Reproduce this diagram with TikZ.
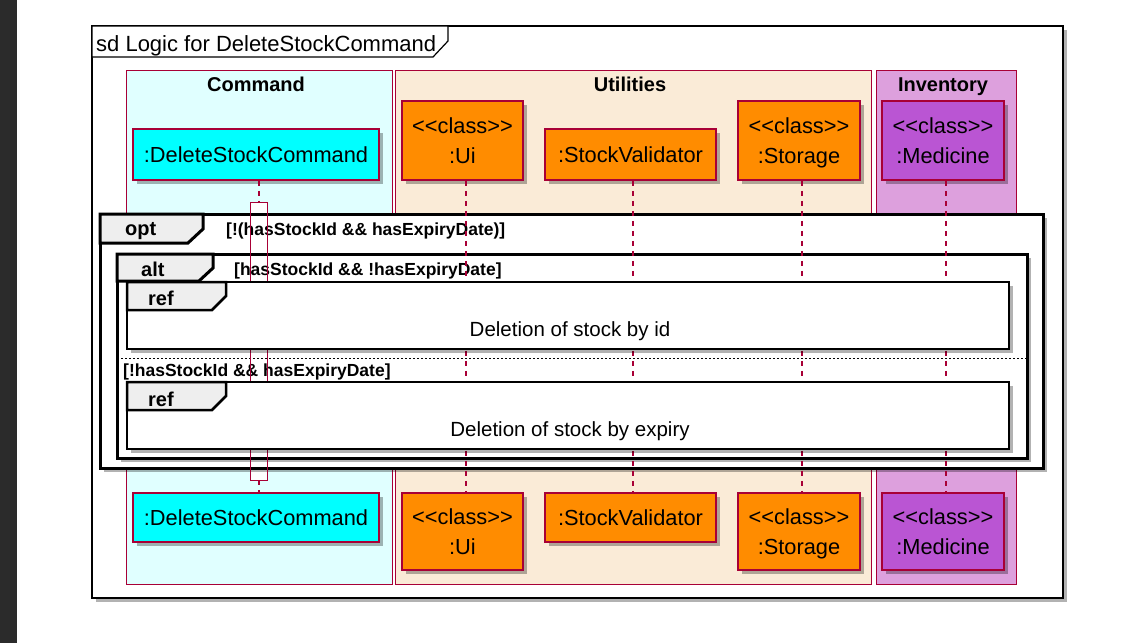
\documentclass[tikz,border=0pt]{standalone}
\usepackage{fontspec}
\setmainfont{Liberation Sans}[Ligatures=TeXOff]
\usetikzlibrary{shadows}
\definecolor{crim}{HTML}{A80036}
\definecolor{pcyan}{HTML}{00FFFF}
\definecolor{lcyan}{HTML}{E0FFFF}
\definecolor{awhite}{HTML}{FAEBD7}
\definecolor{lplum}{HTML}{DDA0DD}
\definecolor{dorange}{HTML}{FF8C00}
\definecolor{morchid}{HTML}{BA55D3}
\definecolor{tabgray}{HTML}{EEEEEE}
\definecolor{darkbar}{HTML}{2B2B2B}
\newcommand{\pst}{\rule[-7pt]{0pt}{30pt}}
\tikzset{
  shad/.style={drop shadow={shadow xshift=4pt, shadow yshift=-4pt, fill=black, opacity=0.3}},
  lane/.style={draw=crim, line width=1},
  lanetitle/.style={font=\fontsize{20}{24}\selectfont\bfseries, inner sep=0, anchor=base},
  part/.style={draw=crim, line width=1.5, shad, align=center, inner sep=0,
    font=\fontsize{21.8}{30}\selectfont},
  life/.style={draw=crim, line width=1.2, dash pattern=on 5pt off 5pt},
  bigframe/.style={draw=black, line width=3},
  refframe/.style={draw=black, line width=2.5},
  tablabel/.style={font=\fontsize{20}{24}\selectfont\bfseries, inner sep=0, anchor=base west},
  guard/.style={font=\fontsize{17.5}{20}\selectfont\bfseries, inner sep=0, anchor=base west},
  reftext/.style={font=\fontsize{20.5}{24}\selectfont, inner sep=0, anchor=base},
  actbox/.style={inner sep=0, minimum width=16, minimum height=277}
}
\begin{document}
\begin{tikzpicture}[x=1pt,y=-1pt]
% background
\useasboundingbox (0,0) rectangle (1126,643);
\fill[white] (0,0) rectangle (1126,643);
\fill[darkbar] (0,0) rectangle (17,643);
% outer frame
\draw[black, line width=1.5, fill=white, shad] (92,26) rectangle (1063,598);
\draw[black, line width=1.2, fill=white] (92,26) -- (448,26) -- (448,41) -- (433,57) -- (92,57) -- cycle;
\node[font=\fontsize{22}{26}\selectfont, inner sep=0, anchor=base west] (title) at (96,51.5) {sd Logic for DeleteStockCommand};
% lanes
\draw[lane, fill=lcyan] (126,70) rectangle (392,584);
\draw[lane, fill=awhite] (395,70) rectangle (871,584);
\draw[lane, fill=lplum] (876,70) rectangle (1016,584);
\node[lanetitle] (tcmd) at (256,91) {Command};
\node[lanetitle] (tutil) at (630,91) {Utilities};
\node[lanetitle] (tinv) at (943,91) {Inventory};
% participants top
\node[part, fill=pcyan, minimum width=246, minimum height=51] (dsc) at (256,154.5) {:DeleteStockCommand\pst};
\node[part, fill=dorange, minimum width=121, minimum height=79] (ui) at (462.5,140.5) {<<class>>\pst\\:Ui\pst};
\node[part, fill=dorange, minimum width=171, minimum height=51] (sv) at (630.5,154.5) {:StockValidator\pst};
\node[part, fill=dorange, minimum width=122, minimum height=79] (st) at (799,140.5) {<<class>>\pst\\:Storage\pst};
\node[part, fill=morchid, minimum width=122, minimum height=79] (med) at (943,140.5) {<<class>>\pst\\:Medicine\pst};
% participants bottom
\node[part, fill=pcyan, minimum width=246, minimum height=49] (dscB) at (256,517.5) {:DeleteStockCommand\pst};
\node[part, fill=dorange, minimum width=121, minimum height=77] (uiB) at (462.5,531.5) {<<class>>\pst\\:Ui\pst};
\node[part, fill=dorange, minimum width=171, minimum height=49] (svB) at (630.5,517.5) {:StockValidator\pst};
\node[part, fill=dorange, minimum width=122, minimum height=77] (stB) at (799,531.5) {<<class>>\pst\\:Storage\pst};
\node[part, fill=morchid, minimum width=122, minimum height=77] (medB) at (943,531.5) {<<class>>\pst\\:Medicine\pst};
% activation fill
\node[actbox, fill=white] (act) at (259,341.5) {};
% opt frame
\fill[white, shad] (100,214) rectangle (1043,468);
\draw[bigframe] (100,214) rectangle (1043,468);
\draw[bigframe, fill=tabgray] (100,214) -- (203,214) -- (203,229) -- (188,243) -- (100,243) -- cycle;
\node[tablabel] (optl) at (125,235.5) {opt};
\node[guard] (optg) at (226,235.5) {[!(hasStockId \&\& hasExpiryDate)]};
% alt frame
\fill[white, shad] (117,254) rectangle (1027,458);
\draw[bigframe] (117,254) rectangle (1027,458);
\draw[bigframe, fill=tabgray] (117,254) -- (213,254) -- (213,268) -- (199,281) -- (117,281) -- cycle;
\node[tablabel] (altl) at (141,276) {alt};
\node[guard] (altg1) at (234,275.5) {[hasStockId \&\& !hasExpiryDate]};
\draw[black, line width=0.8, dash pattern=on 2pt off 2pt] (117,358) -- (1027,358);
\node[guard] (altg2) at (123,376.5) {[!hasStockId \&\& hasExpiryDate]};
% lifelines
\draw[life] ([xshift=3pt]dsc.south) -- (act.north);
\draw[life] (act.south) -- ([xshift=3pt]dscB.north);
\draw[life] ([xshift=3.5pt]ui.south) -- ([xshift=3.5pt]uiB.north);
\draw[life] ([xshift=2.5pt]sv.south) -- ([xshift=2.5pt]svB.north);
\draw[life] ([xshift=3pt]st.south) -- ([xshift=3pt]stB.north);
\draw[life] ([xshift=3pt]med.south) -- ([xshift=3pt]medB.north);
\draw[crim, line width=1.2] (act.north west) rectangle (act.south east);
% ref frames
\fill[white, shad] (127,282) rectangle (1009,349);
\draw[refframe] (127,282) rectangle (1009,349);
\draw[refframe, fill=tabgray] (127,282) -- (226,282) -- (226,296) -- (212,310) -- (127,310) -- cycle;
\node[tablabel] (ref1l) at (148,305.5) {ref};
\node[reftext] (ref1t) at (570,336.5) {Deletion of stock by id};
\fill[white, shad] (127,382) rectangle (1009,449);
\draw[refframe] (127,382) rectangle (1009,449);
\draw[refframe, fill=tabgray] (127,382) -- (226,382) -- (226,396) -- (212,410) -- (127,410) -- cycle;
\node[tablabel] (ref2l) at (148,406.5) {ref};
\node[reftext] (ref2t) at (570,436.5) {Deletion of stock by expiry};
\end{tikzpicture}
\end{document}
